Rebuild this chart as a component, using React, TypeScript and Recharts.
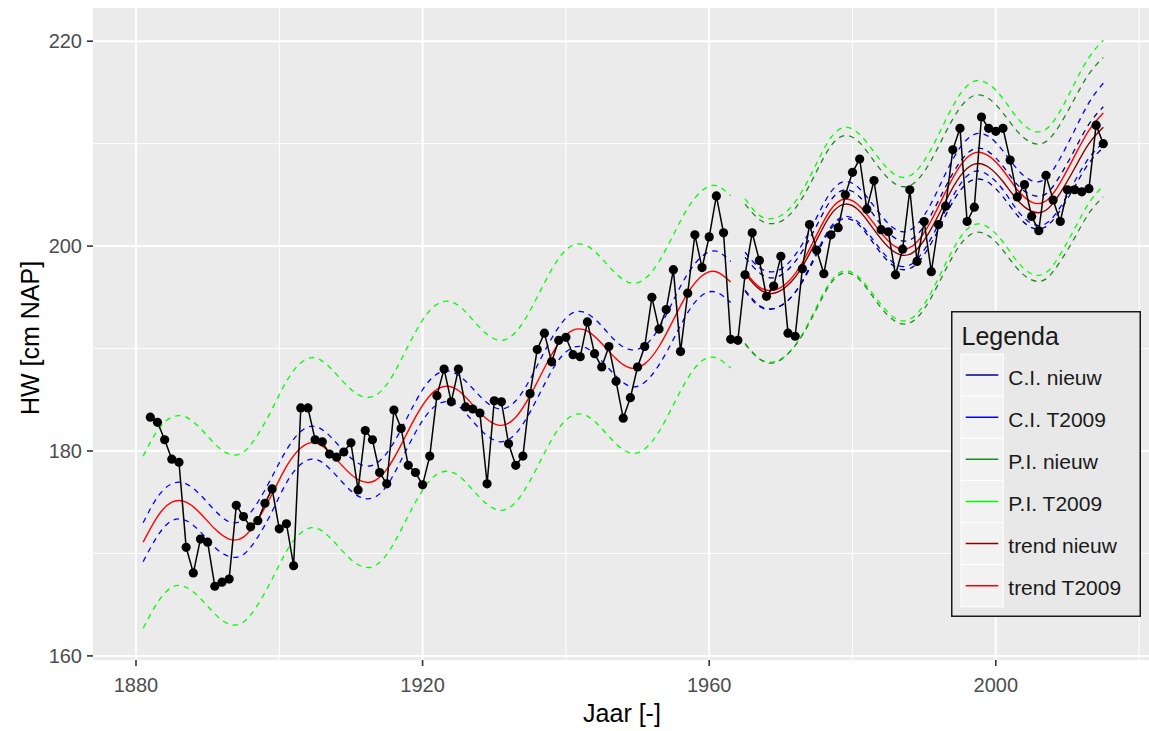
import React from 'react';
import { LineChart, Line, XAxis, YAxis, CartesianGrid, Legend, Label } from 'recharts';

const FONT = '"Liberation Sans", Arial, sans-serif';

// Observed yearly mean high water (HW, cm NAP)
const obsYears = [
  1882, 1883, 1884, 1885, 1886, 1887, 1888, 1889, 1890, 1891, 1892, 1893, 1894, 1895, 1896, 1897, 1898, 1899,
  1900, 1901, 1902, 1903, 1904, 1905, 1906, 1907, 1908, 1909, 1910, 1911, 1912, 1913, 1914, 1915, 1916, 1917, 1918, 1919,
  1920, 1921, 1922, 1923, 1924, 1925, 1926, 1927, 1928, 1929, 1930, 1931, 1932, 1933, 1934, 1935, 1936, 1937, 1938, 1939,
  1940, 1941, 1942, 1943, 1944, 1945, 1946, 1947, 1948, 1949, 1950, 1951, 1952, 1953, 1954, 1955, 1956, 1957, 1958, 1959,
  1960, 1961, 1962, 1963, 1964, 1965, 1966, 1967, 1968, 1969, 1970, 1971, 1972, 1973, 1974, 1975, 1976, 1977, 1978, 1979,
  1980, 1981, 1982, 1983, 1984, 1985, 1986, 1987, 1988, 1989, 1990, 1991, 1992, 1993, 1994, 1995, 1996, 1997, 1998, 1999,
  2000, 2001, 2002, 2003, 2004, 2005, 2006, 2007, 2008, 2009, 2010, 2011, 2012, 2013, 2014, 2015,
];
const obsHW = [
  183.3, 182.8, 181.1, 179.2, 178.9, 170.6, 168.1, 171.4, 171.1, 166.8, 167.2, 167.5, 174.7, 173.6, 172.6, 173.2, 174.9, 176.3,
  172.4, 172.9, 168.8, 184.2, 184.2, 181.1, 180.9, 179.7, 179.4, 179.9, 180.8, 176.2, 182.0, 181.1, 177.9, 176.8, 184.0, 182.2, 178.6, 177.9,
  176.7, 179.5, 185.4, 188.0, 184.8, 188.0, 184.3, 184.1, 183.7, 176.8, 184.9, 184.8, 180.7, 178.6, 179.5, 185.6, 189.9, 191.5, 188.7, 190.8,
  191.1, 189.4, 189.2, 192.6, 189.5, 188.2, 190.2, 186.8, 183.2, 185.2, 188.2, 190.2, 195.0, 191.9, 193.8, 197.7, 189.7, 195.4, 201.1, 197.9,
  200.9, 204.9, 201.3, 190.9, 190.8, 197.2, 201.3, 198.6, 195.1, 196.1, 199.0, 191.5, 191.2, 197.8, 202.1, 199.6, 197.3, 201.1, 201.8, 205.0,
  207.2, 208.5, 203.6, 206.4, 201.6, 201.4, 197.2, 199.7, 205.5, 198.5, 202.4, 197.5, 202.1, 203.9, 209.4, 211.5, 202.4, 203.8, 212.6, 211.5,
  211.2, 211.5, 208.4, 204.8, 206.0, 202.9, 201.5, 206.9, 204.5, 202.4, 205.5, 205.5, 205.3, 205.6, 211.8, 210.0,
];

// Trend sample years (T2009 first period, then second period used by both models)
const earlyYears = [
  1881, 1883, 1885, 1887, 1889, 1891, 1893, 1895, 1897, 1899, 1901, 1903, 1905, 1907, 1909, 1911, 1913, 1915, 1917, 1919, 1921,
  1923, 1925, 1927, 1929, 1931, 1933, 1935, 1937, 1939, 1941, 1943, 1945, 1947, 1949, 1951, 1953, 1955, 1957, 1959, 1961, 1963,
];
const lateYears = [
  1965, 1967, 1969, 1971, 1973, 1975, 1977, 1979, 1981, 1983, 1985, 1987, 1989,
  1991, 1993, 1995, 1997, 1999, 2001, 2003, 2005, 2007, 2009, 2011, 2013, 2015,
];

const trendT2009Early = [
  171.1, 173.6, 175.0, 175.0, 173.9, 172.4, 171.4, 171.6, 173.3, 175.8, 178.5, 180.3, 180.8, 179.9, 178.4, 177.2, 177.0, 178.2, 180.6, 183.3, 185.4,
  186.3, 185.9, 184.5, 183.1, 182.5, 183.3, 185.4, 188.1, 190.5, 191.8, 191.7, 190.5, 189.0, 188.1, 188.5, 190.2, 192.8, 195.4, 197.1, 197.5, 196.5,
];
const trendT2009Late = [
  197.5, 196.0, 195.7, 196.5, 198.4, 201.1, 203.6, 204.6, 203.9, 202.2, 200.5, 199.7, 200.4,
  202.5, 205.3, 207.8, 209.1, 208.8, 207.4, 205.5, 204.3, 204.4, 206.2, 208.8, 211.3, 213.0,
];
const trendNieuw = [
  197.3, 195.8, 195.4, 196.2, 198.0, 200.6, 203.1, 204.1, 203.4, 201.6, 199.9, 199.1, 199.7,
  201.7, 204.4, 206.8, 208.0, 207.7, 206.3, 204.5, 203.4, 203.5, 205.2, 207.6, 210.0, 211.6,
];

// Half widths of the confidence (C.I.) and prediction (P.I.) bands
const ciHalfT2009Early = [
  1.9, 1.9, 1.8, 1.8, 1.8, 1.8, 1.7, 1.7, 1.7, 1.7, 1.6, 1.6, 1.6, 1.6, 1.6, 1.6, 1.6, 1.6, 1.5, 1.5, 1.5,
  1.5, 1.5, 1.6, 1.6, 1.6, 1.6, 1.6, 1.6, 1.6, 1.7, 1.7, 1.7, 1.7, 1.8, 1.8, 1.8, 1.9, 1.9, 1.9, 2.0, 2.0,
];
const ciHalfT2009Late = [
  1.9, 1.9, 1.8, 1.8, 1.8, 1.7, 1.7, 1.7, 1.7, 1.7, 1.7, 1.7, 1.7,
  1.7, 1.8, 1.8, 1.8, 1.9, 1.9, 2.0, 2.1, 2.2, 2.4, 2.5, 2.7, 2.9,
];
const ciHalfNieuw = [
  1.6, 1.6, 1.5, 1.5, 1.5, 1.4, 1.4, 1.4, 1.4, 1.4, 1.4, 1.4, 1.4,
  1.4, 1.4, 1.4, 1.5, 1.5, 1.5, 1.5, 1.6, 1.6, 1.7, 1.8, 1.9, 2.0,
];
const piHalfT2009Early = [
  8.4, 8.4, 8.3, 8.3, 8.3, 8.3, 8.3, 8.3, 8.3, 8.3, 8.3, 8.3, 8.3, 8.3, 8.3, 8.3, 8.3, 8.3, 8.3, 8.3, 8.3,
  8.3, 8.3, 8.3, 8.3, 8.3, 8.3, 8.3, 8.3, 8.3, 8.3, 8.3, 8.3, 8.3, 8.3, 8.3, 8.3, 8.3, 8.3, 8.3, 8.4, 8.4,
];
const piHalfT2009Late = [
  7.1, 7.0, 7.0, 7.0, 7.0, 7.0, 7.0, 7.0, 7.0, 7.0, 7.0, 7.0, 7.0,
  7.0, 7.0, 7.0, 7.0, 7.0, 7.0, 7.0, 7.0, 7.0, 7.0, 7.1, 7.1, 7.1,
];
const piHalfNieuw = [
  6.8, 6.8, 6.8, 6.7, 6.7, 6.7, 6.7, 6.7, 6.7, 6.7, 6.7, 6.7, 6.7,
  6.7, 6.7, 6.7, 6.7, 6.7, 6.7, 6.7, 6.7, 6.7, 6.7, 6.8, 6.8, 6.8,
];

const xTicks = [1880, 1920, 1960, 2000];
const xMinor = [1900, 1940, 1980, 2020];
const yTicks = [160, 180, 200, 220];
const yMinor = [170, 190, 210];

const legendItems = [
  { label: 'C.I. nieuw', color: '#00008B' },
  { label: 'C.I. T2009', color: '#0000FF' },
  { label: 'P.I. nieuw', color: '#1E8B1E' },
  { label: 'P.I. T2009', color: '#00FF00' },
  { label: 'trend nieuw', color: '#8B0000' },
  { label: 'trend T2009', color: '#FF0000' },
];

const r2 = (v: number) => Math.round(v * 100) / 100;

const bandRow = (year: number, t: number, ci: number, pi: number) => ({
  year,
  trend: t,
  ciLo: r2(t - ci),
  ciHi: r2(t + ci),
  piLo: r2(t - pi),
  piHi: r2(t + pi),
});

const obsData = obsYears.map((year, i) => ({ year, hw: obsHW[i] }));

const t2009Data = [
  ...earlyYears.map((y, i) => bandRow(y, trendT2009Early[i], ciHalfT2009Early[i], piHalfT2009Early[i])),
  { year: 1964, trend: null, ciLo: null, ciHi: null, piLo: null, piHi: null },
  ...lateYears.map((y, i) => bandRow(y, trendT2009Late[i], ciHalfT2009Late[i], piHalfT2009Late[i])),
];
const nieuwData = lateYears.map((y, i) => bandRow(y, trendNieuw[i], ciHalfNieuw[i], piHalfNieuw[i]));

const DASH = '5.5 5';

const LegendBox = () => (
  <svg width={190} height={306} style={{ display: 'block' }}>
    <rect x={0.75} y={0.75} width={188.5} height={304.5} fill="#E8E8E8" stroke="#1A1A1A" strokeWidth={1.5} />
    <text x={10.5} y={34} fontSize={25} fontFamily={FONT} fill="#1A1A1A">
      Legenda
    </text>
    {legendItems.map((it, i) => {
      const cy = 64 + i * 42.15;
      return (
        <g key={it.label}>
          <rect x={10} y={cy - 21} width={42.3} height={42.1} fill="#F2F2F2" stroke="#FFFFFF" strokeWidth={1} />
          <line x1={14.7} x2={47.3} y1={cy} y2={cy} stroke={it.color} strokeWidth={1.5} />
          <text x={57.3} y={cy + 9.5} fontSize={21} fontFamily={FONT} fill="#1A1A1A">
            {it.label}
          </text>
        </g>
      );
    })}
  </svg>
);

const lineCommon = {
  dot: false as const,
  activeDot: false as const,
  isAnimationActive: false,
  type: 'natural' as const,
  connectNulls: false,
  legendType: 'none' as const,
};

export default function App() {
  return (
    <div style={{ position: 'absolute', left: 0, top: 0, width: 1149, height: 731, overflow: 'hidden', background: '#FFFFFF' }}>
      <LineChart width={1151} height={731} margin={{ top: 8, right: 0, bottom: 0, left: 0 }}>
        <CartesianGrid fill="#EBEBEB" stroke="#FFFFFF" strokeWidth={1} horizontalValues={yMinor} verticalValues={xMinor} />
        <CartesianGrid fill="none" stroke="#FFFFFF" strokeWidth={2} horizontalValues={yTicks} verticalValues={xTicks} />
        <XAxis
          type="number"
          dataKey="year"
          domain={[1874, 2021.66]}
          ticks={xTicks}
          interval={0}
          allowDataOverflow
          axisLine={false}
          tickSize={6}
          tickMargin={12}
          height={71}
          tick={{ fill: '#4D4D4D', fontSize: 20, fontFamily: FONT }}
          tickLine={{ stroke: '#333333', strokeWidth: 1.6 }}
        >
          <Label
            content={() => (
              <text x={622} y={722} textAnchor="middle" fontSize={25} fontFamily={FONT} fill="#000000">
                Jaar [-]
              </text>
            )}
          />
        </XAxis>
        <YAxis
          type="number"
          domain={[159.6, 223.24]}
          ticks={yTicks}
          interval={0}
          allowDataOverflow
          axisLine={false}
          width={93}
          tickSize={6}
          tickMargin={5}
          tick={{ fill: '#4D4D4D', fontSize: 20, fontFamily: FONT }}
          tickLine={{ stroke: '#333333', strokeWidth: 1.6 }}
        >
          <Label
            content={() => (
              <text
                x={39}
                y={338}
                transform="rotate(-90 39 338)"
                textAnchor="middle"
                fontSize={25}
                fontFamily={FONT}
                fill="#000000"
              >
                HW [cm NAP]
              </text>
            )}
          />
        </YAxis>

        <Line {...lineCommon} data={t2009Data} dataKey="piHi" stroke="#00FF00" strokeWidth={1.3} strokeDasharray={DASH} />
        <Line {...lineCommon} data={t2009Data} dataKey="piLo" stroke="#00FF00" strokeWidth={1.3} strokeDasharray={DASH} />
        <Line {...lineCommon} data={nieuwData} dataKey="piHi" stroke="#1E8B1E" strokeWidth={1.3} strokeDasharray={DASH} />
        <Line {...lineCommon} data={nieuwData} dataKey="piLo" stroke="#1E8B1E" strokeWidth={1.3} strokeDasharray={DASH} />
        <Line {...lineCommon} data={t2009Data} dataKey="ciHi" stroke="#0000FF" strokeWidth={1.3} strokeDasharray={DASH} />
        <Line {...lineCommon} data={t2009Data} dataKey="ciLo" stroke="#0000FF" strokeWidth={1.3} strokeDasharray={DASH} />
        <Line {...lineCommon} data={nieuwData} dataKey="ciHi" stroke="#00008B" strokeWidth={1.3} strokeDasharray={DASH} />
        <Line {...lineCommon} data={nieuwData} dataKey="ciLo" stroke="#00008B" strokeWidth={1.3} strokeDasharray={DASH} />
        <Line {...lineCommon} data={nieuwData} dataKey="trend" stroke="#8B0000" strokeWidth={1.4} />
        <Line {...lineCommon} data={t2009Data} dataKey="trend" stroke="#FF0000" strokeWidth={1.4} />
        <Line
          data={obsData}
          dataKey="hw"
          type="linear"
          stroke="#000000"
          strokeWidth={1.5}
          dot={{ r: 4.6, fill: '#000000', stroke: '#000000', strokeWidth: 0 }}
          activeDot={false}
          isAnimationActive={false}
          legendType="none"
        />

        <Legend
          layout="vertical"
          align="center"
          verticalAlign="middle"
          wrapperStyle={{ position: 'absolute', left: 951, top: 311, width: 190, height: 306, margin: 0, padding: 0 }}
          content={() => <LegendBox />}
        />
      </LineChart>
    </div>
  );
}
